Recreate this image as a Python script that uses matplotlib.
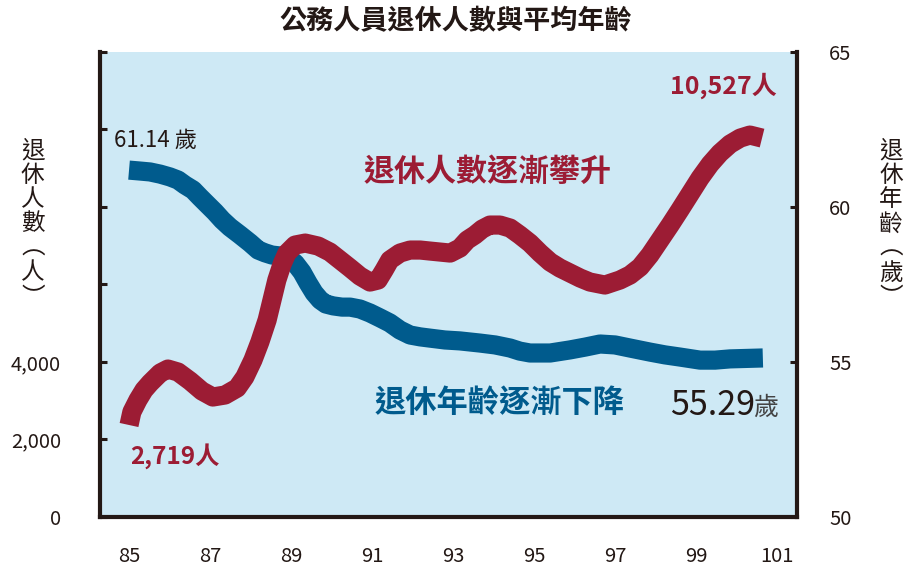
import matplotlib
matplotlib.use("Agg")
import matplotlib.pyplot as plt

plt.rcParams['font.family'] = ['Noto Sans CJK TC', 'DejaVu Sans']

# 退休人數 (left axis)
count_years = [85.0, 85.07, 85.22, 85.37, 85.52, 85.77, 85.96, 86.21, 86.51, 86.80,
               87.07, 87.37, 87.67, 87.86, 88.06, 88.23, 88.41, 88.53, 88.65, 88.78,
               88.90, 89.10, 89.35, 89.67, 89.96, 90.21, 90.46, 90.70, 90.95, 91.15,
               91.30, 91.44, 91.69, 91.94, 92.19, 92.43, 92.68, 92.93, 93.17, 93.35,
               93.54, 93.72, 93.91, 94.16, 94.41, 94.65, 94.90, 95.15, 95.40, 95.64,
               95.89, 96.14, 96.38, 96.75, 97.12, 97.37, 97.62, 97.86, 98.11, 98.36,
               98.60, 98.85, 99.10, 99.35, 99.59, 99.84, 100.09, 100.33, 100.63]
count_vals = [2374, 2709, 3019, 3277, 3457, 3715, 3818, 3741, 3509, 3251,
              3096, 3148, 3328, 3612, 4051, 4515, 5083, 5599, 6115, 6527,
              6811, 7018, 7069, 6992, 6837, 6631, 6424, 6218, 6063, 6115,
              6373, 6631, 6811, 6889, 6889, 6863, 6837, 6811, 6940, 7147,
              7276, 7430, 7534, 7534, 7456, 7276, 7069, 6811, 6579, 6424,
              6295, 6166, 6063, 5986, 6115, 6244, 6450, 6760, 7147, 7534,
              7921, 8333, 8746, 9107, 9391, 9623, 9778, 9856, 9778]

# 退休年齡 (right axis)
age_years = [85.0, 85.27, 85.52, 85.77, 86.01, 86.21, 86.38, 86.58, 86.75, 86.95,
             87.12, 87.30, 87.49, 87.74, 87.99, 88.19, 88.36, 88.53, 88.73, 88.93,
             89.10, 89.27, 89.42, 89.57, 89.72, 89.86, 90.04, 90.26, 90.46, 90.70,
             90.95, 91.20, 91.44, 91.69, 91.94, 92.19, 92.43, 92.80, 93.17, 93.67,
             94.04, 94.41, 94.65, 94.90, 95.40, 95.89, 96.26, 96.63, 97.00, 97.37,
             97.86, 98.23, 98.60, 99.10, 99.47, 99.84, 100.65]
age_vals = [61.19, 61.16, 61.13, 61.06, 60.97, 60.87, 60.71, 60.55, 60.32, 60.06,
            59.84, 59.58, 59.35, 59.10, 58.84, 58.61, 58.52, 58.45, 58.42, 58.35,
            58.19, 57.90, 57.55, 57.23, 57.00, 56.87, 56.81, 56.77, 56.77, 56.71,
            56.58, 56.42, 56.26, 56.03, 55.87, 55.81, 55.77, 55.71, 55.68, 55.61,
            55.55, 55.45, 55.35, 55.29, 55.29, 55.39, 55.48, 55.58, 55.55, 55.45,
            55.32, 55.23, 55.16, 55.06, 55.06, 55.10, 55.13]

x_ticks = [85, 87, 89, 91, 93, 95, 97, 99, 101]
left_ticks = [0, 2000, 4000, 6000, 8000, 10000, 12000]
left_labels = ['0', '2,000', '4,000', '', '', '', '']
right_ticks = [50, 55, 60, 65]

red = '#9c1c34'
blue = '#005b8d'
dark = '#231815'
bg = '#cee9f5'

fig = plt.figure(figsize=(9.11, 5.67), dpi=100)
ax = fig.add_axes([0.1098, 0.0882, 0.7651, 0.8201])
ax2 = ax.twinx()

# put the count axis above so the red line crosses over the blue one
ax.set_zorder(2)
ax.patch.set_visible(False)
ax2.set_zorder(1)
ax2.patch.set_visible(True)
ax2.set_facecolor(bg)

ax2.plot(age_years, age_vals, color=blue, lw=13.8,
         solid_capstyle='butt', solid_joinstyle='round')
ax.plot(count_years, count_vals, color=red, lw=13.8,
        solid_capstyle='butt', solid_joinstyle='round')

ax.set_xlim(84.284, 101.494)
ax.set_ylim(0, 12000)
ax2.set_ylim(50, 65)

ax.set_xticks(x_ticks)
ax.set_xticklabels([str(t) for t in x_ticks])
ax.set_yticks(left_ticks)
ax.set_yticklabels(left_labels)
ax2.set_yticks(right_ticks)
ax2.set_yticklabels([str(t) for t in right_ticks])

ax.tick_params(axis='x', length=0, pad=21, labelsize=14.5, labelcolor=dark)
ax.tick_params(axis='y', direction='in', length=5, width=2.2, color=dark,
               pad=28, labelsize=14.5, labelcolor=dark)
ax2.tick_params(axis='y', direction='in', length=5, width=2.2, color=dark,
                pad=23, labelsize=14.5, labelcolor=dark)

for a in (ax, ax2):
    for s in a.spines.values():
        s.set_visible(False)
for side in ('left', 'bottom'):
    ax.spines[side].set_visible(True)
    ax.spines[side].set_linewidth(3)
    ax.spines[side].set_color(dark)
ax2.spines['right'].set_visible(True)
ax2.spines['right'].set_linewidth(3)
ax2.spines['right'].set_color(dark)

# annotations
ax.text(84.63, 9550, '61.14 歲', fontsize=16, color=dark, ha='left', va='baseline')
ax.text(85.02, 1574, '2,719人', fontsize=17.5, color=red, fontweight='bold',
        ha='left', va='center')
ax.text(98.36, 11120, '10,527人', fontsize=18, color=red, fontweight='bold',
        ha='left', va='center')
ax.text(90.78, 8900, '退休人數逐漸攀升', fontsize=22.3, color=red, fontweight='bold',
        ha='left', va='center')
ax.text(91.06, 2940, '退休年齡逐漸下降', fontsize=22.5, color=blue, fontweight='bold',
        ha='left', va='center')
ax.text(98.36, 2630, '55.29', fontsize=24.5, color=dark, ha='left', va='baseline')
ax.text(100.42, 2630, '歲', fontsize=18, color='#444444', ha='left', va='baseline')

fig.text(0.5, 0.962, '公務人員退休人數與平均年齡', fontsize=19.5, fontweight='bold',
         color=dark, ha='center', va='center')
fig.text(0.036, 0.605, '退\n休\n人\n數\n︵\n人\n︶', fontsize=17, color=dark,
         ha='center', va='center', linespacing=1.08)
fig.text(0.978, 0.605, '退\n休\n年\n齡\n︵\n歲\n︶', fontsize=17, color=dark,
         ha='center', va='center', linespacing=1.08)

fig.savefig('out.png', dpi=100)
